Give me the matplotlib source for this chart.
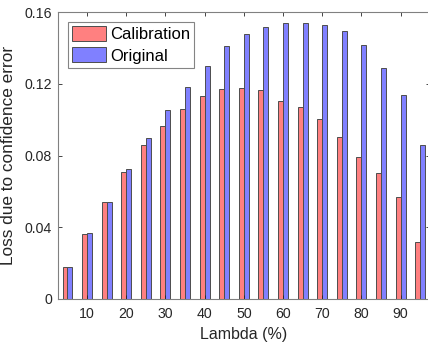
import numpy as np
import matplotlib
matplotlib.use('Agg')
import matplotlib.pyplot as plt

lam = [5, 10, 15, 20, 25, 30, 35, 40, 45, 50, 55, 60, 65, 70, 75, 80, 85, 90, 95]
calibration = [0.018, 0.0362, 0.0538, 0.0708, 0.0860, 0.0965, 0.1060, 0.1130, 0.1172, 0.1178, 0.1165,
               0.1103, 0.1068, 0.1005, 0.0902, 0.0790, 0.0702, 0.0571, 0.0315]
original = [0.018, 0.0366, 0.0541, 0.0722, 0.0895, 0.1052, 0.1183, 0.1300, 0.1412, 0.1478, 0.1516,
            0.1536, 0.1538, 0.1526, 0.1492, 0.1417, 0.1288, 0.1135, 0.0860]

plt.rcParams['font.family'] = ['Liberation Sans', 'DejaVu Sans']

fig = plt.figure(figsize=(4.28, 3.47), dpi=100)
ax = fig.add_axes([57.7 / 428, 48 / 347, (430 - 57.7) / 428, 287 / 347])

x = np.array(lam)
w = 1.27
ax.bar(x - w / 2, calibration, w, color='#ff8080', edgecolor='#4d4d4d', linewidth=0.7, label='Calibration')
ax.bar(x + w / 2, original, w, color='#8080ff', edgecolor='#4d4d4d', linewidth=0.7, label='Original')

ax.set_xlim(2.5, 97.5)
ax.set_ylim(0, 0.16)
ax.set_xticks([10, 20, 30, 40, 50, 60, 70, 80, 90])
ax.set_yticks([0, 0.04, 0.08, 0.12, 0.16])
ax.set_yticklabels(['0', '0.04', '0.08', '0.12', '0.16'])
ax.tick_params(direction='in', length=3, width=0.6, top=True, right=True,
               labelsize=10.2, colors='#262626', pad=4)
ax.tick_params(axis='x', pad=6)
for s in ax.spines.values():
    s.set_color('#808080')
    s.set_linewidth(0.8)

ax.set_xlabel('Lambda (%)', fontsize=11.5, color='#262626', labelpad=4)
ax.set_ylabel('Loss due to confidence error', fontsize=12.4, color='#262626', labelpad=6)

leg = ax.legend(loc='upper left', fontsize=12, frameon=True, fancybox=False,
                edgecolor='#666666', borderpad=0.25, handlelength=2.05, handleheight=1.0,
                handletextpad=0.25, labelspacing=0.3, borderaxespad=0.6)
leg.get_frame().set_linewidth(0.8)

fig.savefig('out.png', dpi=100)
